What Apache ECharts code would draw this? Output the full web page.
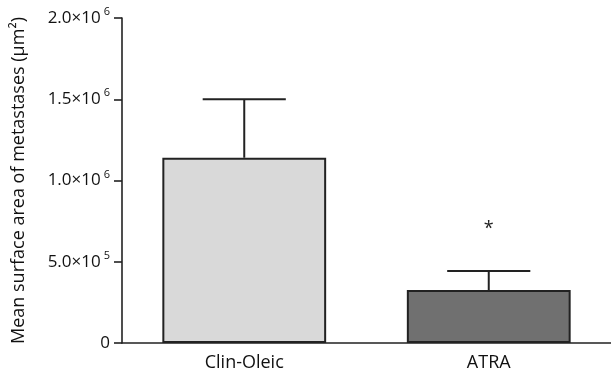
<!DOCTYPE html>
<html><head><meta charset="utf-8">
<script src="https://cdn.jsdelivr.net/npm/echarts@6/dist/echarts.min.js"></script>
<style>html,body{margin:0;padding:0;background:#fff}#c{width:611px;height:378px}</style>
</head><body><div id="c"></div>
<script>
var categories = ['Clin-Oleic', 'ATRA'];
var means = [1140000, 326000];
var errorTops = [1500000, 443000];
var significance = ['', '*'];
var yTicks = [0, 500000, 1000000, 1500000, 2000000];
var tickLabels = {0: '0', 500000: '{b|5.0×10}{s|5}', 1000000: '{b|1.0×10}{s|6}', 1500000: '{b|1.5×10}{s|6}', 2000000: '{b|2.0×10}{s|6}'};
var barColors = ['#d9d9d9', '#707070'];

var chart = echarts.init(document.getElementById('c'));
var FONT = 'Open Sans';
chart.setOption({
  animation: false,
  grid: {left: 122, right: 0, top: 18, bottom: 35, containLabel: false},
  xAxis: {
    type: 'category', data: categories,
    axisLine: {lineStyle: {color: '#222', width: 1.6}},
    axisTick: {alignWithLabel: true, length: 6, lineStyle: {color: '#222', width: 1.6}},
    axisLabel: {color: '#111', fontFamily: FONT, fontSize: 18, margin: 11}
  },
  yAxis: {
    type: 'value', min: 0, max: 2000000, interval: 500000,
    name: 'Mean surface area of metastases (μm²)', nameLocation: 'middle', nameGap: 94,
    nameTextStyle: {color: '#111', fontFamily: FONT, fontSize: 18},
    splitLine: {show: false},
    axisLine: {show: true, lineStyle: {color: '#222', width: 1.6}},
    axisTick: {show: true, length: 8, lineStyle: {color: '#222', width: 1.6}},
    axisLabel: {
      margin: 12, color: '#111',
      formatter: function (v) { return tickLabels[v]; },
      fontFamily: FONT, fontSize: 17,
      rich: {
        b: {fontFamily: FONT, fontSize: 17, color: '#111'},
        s: {fontFamily: FONT, fontSize: 11, color: '#111', verticalAlign: 'top', padding: [0, 0, 12, 3]}
      }
    }
  },
  series: [{
    type: 'bar', barWidth: '67%',
    data: means.map(function (v, i) { return {value: v, itemStyle: {color: barColors[i]}}; }),
    itemStyle: {borderColor: '#222', borderWidth: 2},
    z: 2
  }, {
    type: 'custom',
    data: categories.map(function (c, i) { return [i, means[i], errorTops[i]]; }),
    renderItem: function (params, api) {
      var i = api.value(0);
      var base = api.coord([i, api.value(1)]);
      var top = api.coord([i, api.value(2)]);
      var bw = api.size([1, 0])[0];
      var half = bw * 0.17;
      var children = [
        {type: 'line', shape: {x1: base[0], y1: base[1], x2: top[0], y2: top[1]}, style: {stroke: '#222', lineWidth: 2}},
        {type: 'line', shape: {x1: top[0] - half, y1: top[1], x2: top[0] + half, y2: top[1]}, style: {stroke: '#222', lineWidth: 2}}
      ];
      if (significance[i]) {
        children.push({type: 'text', x: top[0], y: top[1] - 42, style: {text: significance[i], fill: '#222', font: '18px "' + FONT + '"', align: 'center', verticalAlign: 'middle'}});
      }
      return {type: 'group', children: children};
    },
    z: 1
  }]
});
</script></body></html>
